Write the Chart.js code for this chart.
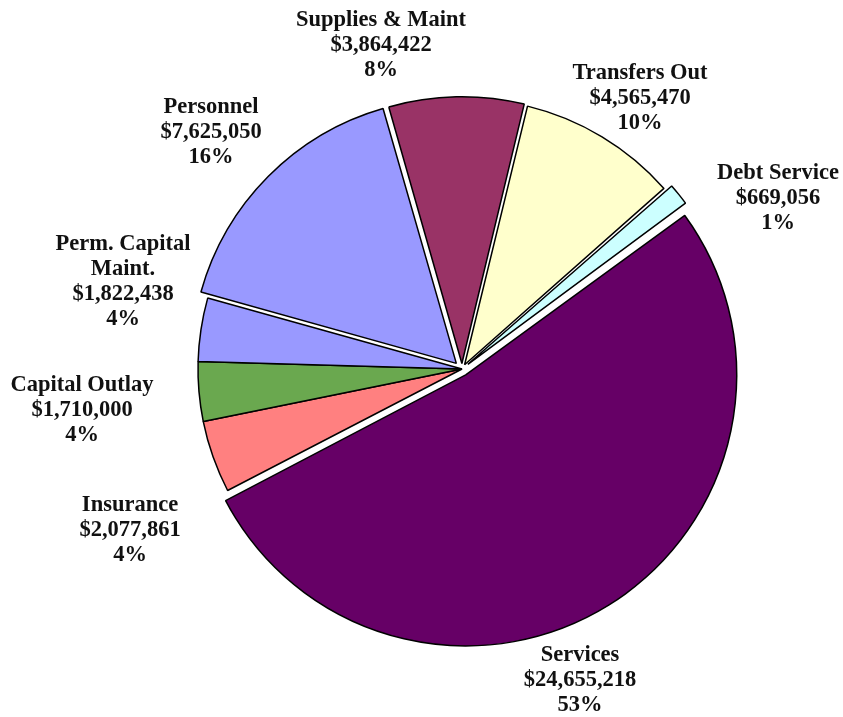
<!DOCTYPE html>
<html>
<head>
<meta charset="utf-8">
<script src="https://cdn.jsdelivr.net/npm/chart.js@4.4.1/dist/chart.umd.min.js"></script>
<style>
  html, body { margin: 0; padding: 0; background: #fff; }
  #wrap { width: 843px; height: 717px; }
</style>
</head>
<body>
<div id="wrap"><canvas id="budgetChart"></canvas></div>
<script>
// budget categories, clockwise from the top
const categories = [['Supplies & Maint'], ['Transfers Out'], ['Debt Service'], ['Services'],
                    ['Insurance'], ['Capital Outlay'], ['Perm. Capital', 'Maint.'], ['Personnel']];
const amounts = [3864422, 4565470, 669056, 24655218, 2077861, 1710000, 1822438, 7625050];
const percentLabels = ['8%', '10%', '1%', '53%', '4%', '4%', '4%', '16%'];

const sliceColors = ['#993366', '#FFFFCC', '#CCFFFF', '#660066', '#FF8080', '#6AA84F', '#9999FF', '#9999FF'];
const sliceOffsets = [22, 20, 30, 28, 0, 0, 0, 32];
// centre of the first text line for each label
const labelSpots = [[381, 20], [640, 73], [778, 173], [580, 655], [130, 505], [82, 385], [123, 244], [211, 107]];

function money(v) {
    return '$' + v.toLocaleString('en-US');
}

const outsideLabels = {
    id: 'outsideLabels',
    afterDraw(chart) {
        const ctx = chart.ctx;
        ctx.save();
        ctx.font = 'bold 22.5px "Liberation Serif", "Times New Roman", serif';
        ctx.fillStyle = '#111';
        ctx.textAlign = 'center';
        ctx.textBaseline = 'middle';
        categories.forEach(function (name, i) {
            const lines = name.concat([money(amounts[i]), percentLabels[i]]);
            const [x, y] = labelSpots[i];
            lines.forEach(function (line, j) {
                ctx.fillText(line, x, y + j * 25);
            });
        });
        ctx.restore();
    }
};

const ctx = document.getElementById('budgetChart').getContext('2d');
new Chart(ctx, {
    type: 'pie',
    data: {
        labels: categories.map(c => c.join(' ')),
        datasets: [{
            data: amounts,
            backgroundColor: sliceColors,
            borderColor: '#000',
            borderWidth: 1.5,
            offset: sliceOffsets,
            hoverOffset: 0,
        }]
    },
    options: {
        responsive: true,
        maintainAspectRatio: false,
        animation: false,
        rotation: -16,
        radius: 264,
        layout: { padding: { left: 81, right: 0, top: 21, bottom: 0 } },
        plugins: {
            legend: { display: false },
            tooltip: { enabled: false },
        }
    },
    plugins: [outsideLabels]
});
</script>
</body>
</html>
